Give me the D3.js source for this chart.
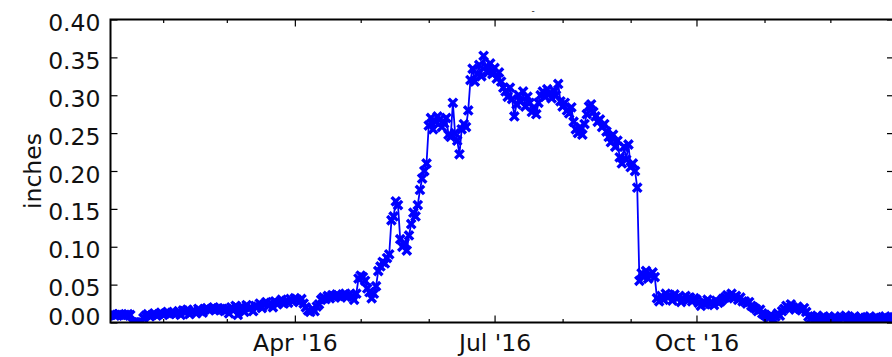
<!DOCTYPE html>
<html>
<head>
<meta charset="utf-8">
<script src="https://cdn.jsdelivr.net/npm/d3@7"></script>
<style>
  body { margin: 0; background: #fff; }
  text { font-family: "DejaVu Sans", sans-serif; fill: #111; }
</style>
</head>
<body>
<div id="root"></div>
<script>
const width = 892;
const height = 357;

// daily values (inches), one array per month, starting Jan 8 2016
const jan = [0.010,0.011,0.009,0.010,0.011,0.010,0.009,0.010,0.011,0.010,0,0,0,0,0,0.006,0.009,0.011,0.008,0.010,0.012,0.009,0.011,0.013];
const feb = [0.010,0.012,0.014,0.011,0.013,0.012,0.012,0.015,0.010,0.016,0.013,0.017,0.011,0.014,0.016,0.012,0.018,0.015,0.013,0.017,0.019,0.016,0.018,0.020,0.017,0.019,0.016,0.018,0.015];
const mar = [0.018,0.012,0.020,0.016,0.022,0.010,0.019,0.021,0.014,0.023,0.018,0.020,0.015,0.022,0.021,0.025,0.019,0.024,0.027,0.022,0.026,0.020,0.028,0.024,0.027,0.030,0.025,0.029,0.026,0.031,0.028];
const apr = [0.032,0.030,0.027,0.031,0.025,0.020,0.016,0.014,0.018,0.015,0.021,0.024,0.030,0.033,0.031,0.035,0.032,0.036,0.034,0.037,0.035,0.033,0.036,0.038,0.035,0.037,0.034,0.030,0.038,0.058];
const may = [0.062,0.060,0.055,0.045,0.040,0.032,0.038,0.048,0.068,0.074,0.080,0.078,0.085,0.090,0.135,0.140,0.160,0.155,0.110,0.100,0.105,0.095,0.115,0.130,0.145,0.140,0.155,0.175,0.190,0.200,0.210];
const jun = [0.260,0.270,0.255,0.265,0.272,0.268,0.258,0.263,0.270,0.248,0.245,0.290,0.250,0.240,0.222,0.255,0.262,0.258,0.280,0.320,0.335,0.318,0.328,0.340,0.325,0.352,0.338,0.330,0.342,0.328];
const jul = [0.336,0.322,0.330,0.318,0.310,0.305,0.298,0.310,0.295,0.272,0.288,0.300,0.292,0.305,0.285,0.298,0.290,0.278,0.283,0.275,0.290,0.300,0.305,0.298,0.308,0.302,0.296,0.306,0.300,0.315,0.292];
const aug = [0.285,0.290,0.280,0.276,0.284,0.265,0.255,0.250,0.258,0.248,0.262,0.275,0.285,0.288,0.278,0.272,0.265,0.268,0.258,0.262,0.252,0.245,0.238,0.248,0.232,0.240,0.218,0.210,0.232,0.215,0.235];
const sep = [0.205,0.210,0.200,0.178,0.055,0.065,0.060,0.068,0.058,0.063,0.066,0.060,0.032,0.028,0.035,0.030,0.038,0.033,0.036,0.029,0.037,0.032,0.034,0.027,0.031,0.035,0.030,0.033,0.028,0.032];
const oct = [0.030,0.026,0.022,0.028,0.024,0.030,0.025,0.027,0.023,0.029,0.026,0.028,0.031,0.033,0.036,0.034,0.038,0.032,0.035,0.030,0.033,0.028,0.028,0.025,0.027,0.022,0.020,0.018,0.015,0.017,0.012];
const nov = [0.010,0.008,0.006,0.010,0.004,0.008,0.012,0.009,0.015,0.018,0.022,0.019,0.024,0.020,0.017,0.021,0.018,0.016,0.019,0.014,0.008,0.005,0.007,0.004,0.009,0.006,0.003,0.008,0.005,0.007];
const dec = [0.006,0.004,0.008,0.005,0.003,0.007,0.006,0.009,0.004,0.006,0.005,0.008,0.003,0.006,0.007,0.004,0.006,0.005,0.008,0.004,0.006,0.007,0.005,0.003,0.006,0.008,0.005,0.006,0.004,0.007];

const yTicks = [0, 0.05, 0.10, 0.15, 0.20, 0.25, 0.30, 0.35, 0.40];
const majorMonths = [3, 6, 9]; // Apr, Jul, Oct

const startDate = new Date(2016, 0, 8);
const endDate = new Date(2016, 11, 30);
const values = [].concat(jan, feb, mar, apr, may, jun, jul, aug, sep, oct, nov, dec);
const data = values.map((v, i) => ({date: d3.timeDay.offset(startDate, i), value: v}));

const padding = {left: 110.5, right: 894, top: 19.5, bottom: 322.5};

const svg = d3.select('#root')
  .append('svg')
  .attr('width', width).attr('height', height);

const xScale = d3.scaleTime()
  .domain([startDate, endDate])
  .range([padding.left, padding.right]);

const yScale = d3.scaleLinear()
  .domain([0, 0.4])
  .range([padding.bottom, padding.top]);

svg.append('defs').append('clipPath').attr('id', 'plot')
  .append('rect')
  .attr('x', padding.left).attr('y', padding.top)
  .attr('width', padding.right - padding.left)
  .attr('height', padding.bottom - padding.top);

const months = d3.timeMonth.range(d3.timeMonth.ceil(startDate), endDate);
const majors = months.filter(d => majorMonths.includes(d.getMonth()));
const minors = months.filter(d => !majorMonths.includes(d.getMonth()));

// line + x markers
const plot = svg.append('g').attr('clip-path', 'url(#plot)');

plot.append('path')
  .datum(data)
  .attr('fill', 'none')
  .attr('stroke', '#0000ff')
  .attr('stroke-width', 1.8)
  .attr('d', d3.line().x(d => xScale(d.date)).y(d => yScale(d.value)));

const m = 4.2;
plot.selectAll('.mark')
  .data(data).enter()
  .append('path')
  .attr('class', 'mark')
  .attr('transform', d => `translate(${xScale(d.date)},${yScale(d.value)})`)
  .attr('d', `M${-m},${-m}L${m},${m}M${-m},${m}L${m},${-m}`)
  .attr('stroke', '#0000ff')
  .attr('stroke-width', 3.4)
  .attr('fill', 'none');

// ticks (inward, all four sides)
function styleAxis(g) {
  g.select('.domain').remove();
  g.selectAll('line').attr('stroke', '#000').attr('stroke-width', 1.2);
  g.selectAll('text').attr('font-size', 23.5).attr('fill', '#111');
}

svg.append('g')
  .attr('transform', `translate(0,${padding.bottom})`)
  .call(d3.axisBottom(xScale).tickValues(majors).tickSize(-7).tickPadding(12).tickFormat(d3.timeFormat("%b '%y")))
  .call(styleAxis);
svg.append('g')
  .attr('transform', `translate(0,${padding.bottom})`)
  .call(d3.axisBottom(xScale).tickValues(minors).tickSize(-3.5).tickFormat(''))
  .call(styleAxis);
svg.append('g')
  .attr('transform', `translate(0,${padding.top})`)
  .call(d3.axisTop(xScale).tickValues(majors).tickSize(-7).tickFormat(''))
  .call(styleAxis);
svg.append('g')
  .attr('transform', `translate(0,${padding.top})`)
  .call(d3.axisTop(xScale).tickValues(minors).tickSize(-3.5).tickFormat(''))
  .call(styleAxis);

const yAxis = svg.append('g')
  .attr('transform', `translate(${padding.left},0)`)
  .call(d3.axisLeft(yScale).tickValues(yTicks).tickSize(-7).tickPadding(10).tickFormat(d3.format('.2f')))
  .call(styleAxis);
yAxis.selectAll('text').attr('dy', d => d === 0 ? '0.08em' : '0.47em');

svg.append('g')
  .attr('transform', `translate(${padding.right},0)`)
  .call(d3.axisRight(yScale).tickValues(yTicks).tickSize(-7).tickFormat(''))
  .call(styleAxis);

// frame
svg.append('rect')
  .attr('x', padding.left).attr('y', padding.top)
  .attr('width', padding.right - padding.left)
  .attr('height', padding.bottom - padding.top)
  .attr('fill', 'none')
  .attr('stroke', '#000')
  .attr('stroke-width', 2);

// y label
svg.append('text')
  .attr('transform', `translate(41,${(padding.top + padding.bottom) / 2}) rotate(-90)`)
  .attr('text-anchor', 'middle')
  .attr('font-size', 23.5)
  .text('inches');

// remnant of the title above the frame
svg.append('text')
  .attr('x', 533).attr('y', 14)
  .attr('text-anchor', 'middle')
  .attr('font-size', 9)
  .text('-');
</script>
</body>
</html>
